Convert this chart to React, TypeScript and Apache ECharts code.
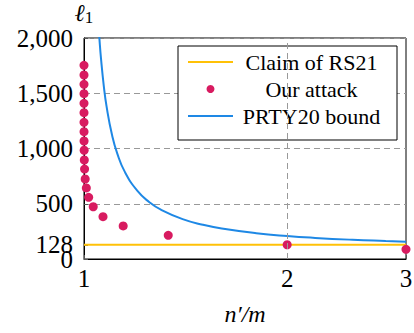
import React, { useEffect, useRef } from 'react';
import * as echarts from 'echarts';

const seriesNames = ['Claim of RS21', 'Our attack', 'PRTY20 bound'];
const claimX = [1, 3];
const claimY = [128, 128];
const attackX = [3, 2, 1.333, 1.143, 1.067, 1.032, 1.016, 1.008, 1.004, 1.002, 1.001, 1.0005, 1.0002, 1.0001, 1, 1, 1, 1, 1, 1, 1];
const attackY = [88, 129, 214, 299, 383, 473, 558, 643, 724, 814, 896, 984, 1068, 1152, 1237, 1324, 1409, 1496, 1581, 1665, 1753];
const boundX = [1.05, 1.054, 1.06, 1.07, 1.08, 1.1, 1.12, 1.15, 1.2, 1.25, 1.3, 1.4, 1.5, 1.6, 1.8, 2, 2.2, 2.5, 2.8, 3];
const boundY = [2146, 1995, 1806, 1563, 1381, 1126, 956, 786, 616, 514, 446, 361, 310, 276, 234, 208, 191, 174, 163, 157];
const yTicks = [0, 500, 1000, 1500, 2000];
const yExtraTicks = [128];
const xTicks = [1, 2, 3];
const xGridAt = [2];

const SERIF = '"Liberation Serif", "DejaVu Serif", serif';
const COLORS = ['#FFC107', '#D81B60', '#1E88E5'];

export default function App() {
  const ref = useRef<HTMLDivElement>(null);
  useEffect(() => {
    const chart = echarts.init(ref.current!, null, { renderer: 'svg' });
    const noDot = { color: 'rgba(0,0,0,0)', borderWidth: 0 };
    const labelStyle = {
      margin: 11, fontFamily: SERIF, fontSize: 25, color: '#000',
      hideOverlap: false, showMinLabel: true, showMaxLabel: true,
      formatter: (v: number) => v.toLocaleString('en-US'),
    };
    const option: any = {
      animation: false,
      backgroundColor: '#fff',
      grid: {
        left: 84, right: 8, top: 38, bottom: 74,
        show: true, borderColor: '#000', borderWidth: 1,
        outerBoundsMode: 'none',
      },
      legend: {
        orient: 'vertical',
        left: 178, top: 46,
        backgroundColor: '#fff',
        borderColor: '#000', borderWidth: 1,
        padding: [5, 12, 13, 9],
        itemWidth: 45, itemHeight: 8, itemGap: 5,
        data: [
          { name: seriesNames[0], itemStyle: noDot },
          { name: seriesNames[1] },
          { name: seriesNames[2], itemStyle: noDot },
        ],
        formatter: (n: string) => `{t|${n}}`,
        textStyle: {
          color: '#000',
          rich: { t: { width: 147, align: 'center', fontSize: 22, lineHeight: 26, fontFamily: SERIF, color: '#000' } },
        },
      },
      xAxis: {
        type: 'log', logBase: 3, min: 1, max: 3,
        name: 'n′/m', nameLocation: 'middle', nameGap: 43,
        nameTextStyle: { fontFamily: SERIF, fontStyle: 'italic', fontSize: 24, color: '#000' },
        axisLine: { lineStyle: { color: '#000', width: 1 } },
        axisTick: { inside: true, length: 4, customValues: xTicks, lineStyle: { color: '#555' } },
        axisLabel: { customValues: xTicks, margin: 7, fontFamily: SERIF, fontSize: 25, color: '#000' },
        splitLine: { show: false },
      },
      yAxis: [
        {
          type: 'value', min: 0, max: 2000, interval: 500,
          name: '{l|ℓ}{s|1}', nameLocation: 'end', nameGap: 12,
          nameTextStyle: {
            align: 'center',
            rich: {
              l: { fontFamily: '"DejaVu Serif", serif', fontStyle: 'italic', fontSize: 24, lineHeight: 22, color: '#000' },
              s: { fontFamily: SERIF, fontSize: 17, lineHeight: 16, color: '#000', padding: [8, 0, 0, 0] },
            },
          },
          axisLine: { show: true, lineStyle: { color: '#000', width: 1 } },
          axisTick: { show: true, inside: true, length: 4, customValues: yTicks, lineStyle: { color: '#555' } },
          axisLabel: { customValues: yTicks, ...labelStyle },
          splitLine: { show: true, lineStyle: { color: '#999', width: 1, type: [6, 4] } },
        },
        {
          type: 'value', min: 0, max: 2000, interval: 500, position: 'left', offset: 0,
          axisLine: { show: false },
          axisTick: { show: true, inside: true, length: 4, customValues: yExtraTicks, lineStyle: { color: '#555' } },
          axisLabel: { customValues: yExtraTicks, ...labelStyle },
          splitLine: { show: false },
        },
      ],
      series: [
        {
          name: seriesNames[0], type: 'line', symbol: 'none',
          data: claimX.map((x, i) => [x, claimY[i]]),
          lineStyle: { color: COLORS[0], width: 2 }, itemStyle: { color: COLORS[0] },
          markLine: {
            silent: true, symbol: 'none', label: { show: false },
            lineStyle: { color: '#999', width: 1, type: [6, 4] },
            data: xGridAt.map((x) => ({ xAxis: x })),
          },
          z: 3,
        },
        {
          name: seriesNames[2], type: 'line', symbol: 'none', smooth: true,
          data: boundX.map((x, i) => [x, boundY[i]]),
          lineStyle: { color: COLORS[2], width: 2 }, itemStyle: { color: COLORS[2] },
          z: 3,
        },
        {
          name: seriesNames[1], type: 'scatter', symbol: 'circle', symbolSize: 9,
          data: attackX.map((x, i) => [x, attackY[i]]),
          itemStyle: { color: COLORS[1], opacity: 1 },
          z: 4,
        },
      ],
    };
    chart.setOption(option);
    return () => chart.dispose();
  }, []);
  return <div ref={ref} style={{ position: 'fixed', left: 0, top: 0, width: 414, height: 333, background: '#fff' }} />;
}
